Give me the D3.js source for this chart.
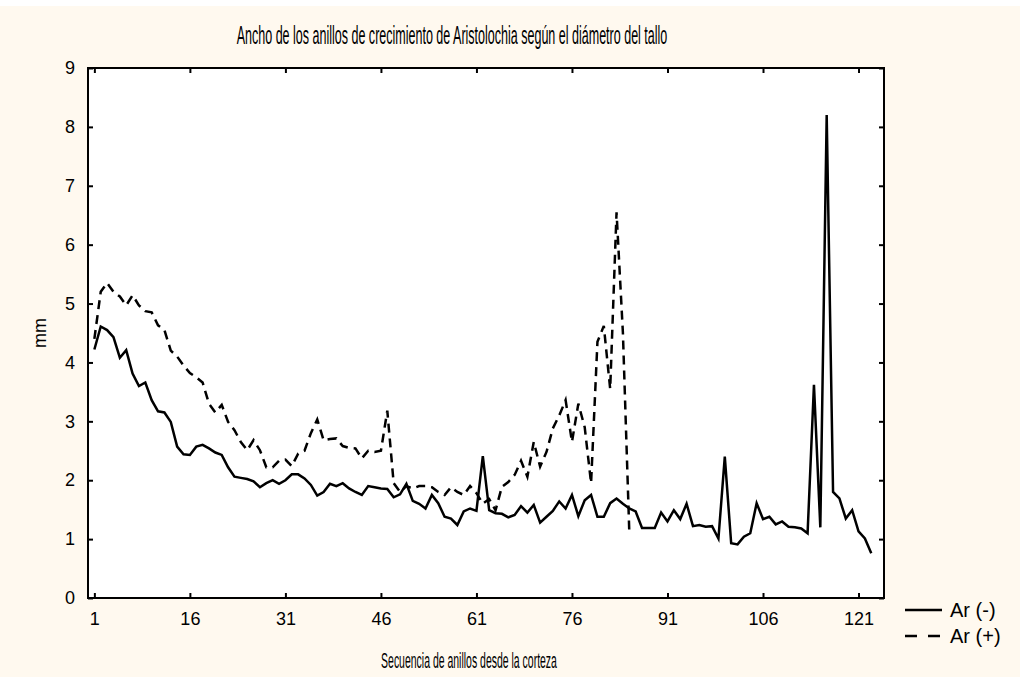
<!DOCTYPE html>
<html>
<head>
<meta charset="utf-8">
<script src="https://cdn.jsdelivr.net/npm/d3@7"></script>
<style>
	body { margin: 0; background: #fff; }
	svg { display: block; font-family: 'Liberation Sans', Arial, sans-serif; }
</style>
</head>
<body>
<div id="app"></div>
<script>
// ring widths (mm) by ring number
const arMinus = [
	4.22, 4.61, 4.55, 4.43, 4.08, 4.21, 3.81, 3.60, 3.66, 3.36,
	3.17, 3.15, 2.99, 2.57, 2.44, 2.43, 2.57, 2.60, 2.54, 2.47,
	2.43, 2.22, 2.06, 2.04, 2.02, 1.98, 1.88, 1.95, 2.00, 1.94,
	2.00, 2.10, 2.10, 2.03, 1.92, 1.74, 1.80, 1.94, 1.90, 1.95,
	1.86, 1.80, 1.75, 1.90, 1.88, 1.86, 1.85, 1.71, 1.76, 1.94,
	1.65, 1.60, 1.52, 1.75, 1.61, 1.38, 1.35, 1.24, 1.47, 1.52,
	1.48, 2.41, 1.49, 1.44, 1.43, 1.37, 1.41, 1.56, 1.45, 1.58,
	1.28, 1.38, 1.48, 1.64, 1.52, 1.75, 1.39, 1.66, 1.75, 1.38,
	1.38, 1.61, 1.69, 1.60, 1.52, 1.47, 1.19, 1.19, 1.19, 1.45,
	1.30, 1.49, 1.34, 1.60, 1.22, 1.24, 1.21, 1.22, 1.01, 2.40,
	0.93, 0.91, 1.04, 1.10, 1.61, 1.34, 1.38, 1.25, 1.30, 1.21,
	1.20, 1.18, 1.10, 3.62, 1.20, 8.20, 1.80, 1.69, 1.35, 1.49,
	1.13, 1.01, 0.76
]
const arPlus = [
	4.40, 5.20, 5.35, 5.20, 5.12, 4.97, 5.14, 4.97, 4.87, 4.85,
	4.63, 4.55, 4.20, 4.10, 3.95, 3.82, 3.75, 3.66, 3.30, 3.15,
	3.28, 2.99, 2.85, 2.65, 2.51, 2.68, 2.51, 2.22, 2.22, 2.33,
	2.35, 2.24, 2.45, 2.50, 2.80, 3.03, 2.68, 2.70, 2.71, 2.58,
	2.55, 2.54, 2.37, 2.50, 2.48, 2.50, 3.18, 1.95, 1.80, 1.90,
	1.86, 1.90, 1.90, 1.88, 1.80, 1.75, 1.88, 1.80, 1.75, 1.90,
	1.78, 1.60, 1.68, 1.49, 1.89, 1.97, 2.09, 2.33, 2.06, 2.65,
	2.23, 2.48, 2.88, 3.10, 3.36, 2.65, 3.30, 2.90, 1.95, 4.35,
	4.62, 3.55, 6.55, 4.50, 1.13
]
const xTicks = [1, 16, 31, 46, 61, 76, 91, 106, 121]
const yTicks = [0, 1, 2, 3, 4, 5, 6, 7, 8, 9]
const seriesNames = ['Ar (-)', 'Ar (+)']

const width = 1020
const height = 677
const plot = { left: 88, right: 884, top: 68, bottom: 598 }

const svg = d3.select('#app')
	.append('svg')
	.attr('width', width)
	.attr('height', height)

// cream page, white plot area
svg.append('rect')
	.attr('x', 0).attr('y', 6)
	.attr('width', width).attr('height', height - 6)
	.attr('fill', '#fff9ef')
svg.append('rect')
	.attr('x', plot.left).attr('y', plot.top)
	.attr('width', plot.right - plot.left).attr('height', plot.bottom - plot.top)
	.attr('fill', '#fff')

let x = d3.scaleLinear().domain([0, 125]).range([plot.left, plot.right])
let y = d3.scaleLinear().domain([0, 9]).range([plot.bottom, plot.top])

// ticks point inward on every side
const styleAxis = (g) => {
	g.select('.domain').remove()
	g.selectAll('.tick line').attr('stroke', '#000').attr('stroke-width', 2)
	g.selectAll('.tick text').attr('fill', '#000').style('font-size', '18px')
}

svg.append('g')
	.attr('transform', `translate(0, ${plot.bottom})`)
	.call(d3.axisBottom(x).tickValues(xTicks).tickSize(-5).tickPadding(14))
	.call(styleAxis)

svg.append('g')
	.attr('transform', `translate(0, ${plot.top})`)
	.call(d3.axisTop(x).tickValues(xTicks).tickSize(-5).tickFormat(''))
	.call(styleAxis)

svg.append('g')
	.attr('transform', `translate(${plot.left}, 0)`)
	.call(d3.axisLeft(y).tickValues(yTicks).tickSize(-5).tickPadding(13))
	.call(styleAxis)

svg.append('g')
	.attr('transform', `translate(${plot.right}, 0)`)
	.call(d3.axisRight(y).tickValues(yTicks).tickSize(-5).tickFormat(''))
	.call(styleAxis)

// plot frame
svg.append('rect')
	.attr('x', plot.left).attr('y', plot.top)
	.attr('width', plot.right - plot.left).attr('height', plot.bottom - plot.top)
	.attr('fill', 'none')
	.attr('stroke', '#000')
	.attr('stroke-width', 2)

let line = d3.line()
	.x((d, i) => x(i + 1))
	.y((d) => y(d))

svg.append('path')
	.datum(arPlus)
	.attr('d', line)
	.attr('fill', 'none')
	.attr('stroke', '#000')
	.attr('stroke-width', 2.5)
	.attr('stroke-dasharray', '9,6')

svg.append('path')
	.datum(arMinus)
	.attr('d', line)
	.attr('fill', 'none')
	.attr('stroke', '#000')
	.attr('stroke-width', 2.5)

// squeeze a text horizontally into a given width, centred on cx
function squeezedText(label, cx, baseline, boxWidth, fontSize) {
	let t = svg.append('text')
		.attr('text-anchor', 'middle')
		.attr('fill', '#000')
		.style('font-size', fontSize + 'px')
		.text(label)
	let natural = t.node().getComputedTextLength()
	t.attr('transform', `translate(${cx}, ${baseline}) scale(${boxWidth / natural}, 1)`)
}

squeezedText('Ancho de los anillos de crecimiento de Aristolochia según el diámetro del tallo', 452, 44, 431, 26)
squeezedText('Secuencia de anillos desde la corteza', 469, 668, 176, 22)

svg.append('text')
	.attr('transform', 'rotate(-90)')
	.attr('x', -(plot.top + plot.bottom) / 2)
	.attr('y', 46)
	.attr('text-anchor', 'middle')
	.style('font-size', '18px')
	.text('mm')

// legend
let legend = svg.append('g').attr('transform', 'translate(905, 610)')
seriesNames.forEach((name, i) => {
	legend.append('line')
		.attr('x1', 0).attr('x2', 37)
		.attr('y1', i * 26).attr('y2', i * 26)
		.attr('stroke', '#000')
		.attr('stroke-width', 2.5)
		.attr('stroke-dasharray', i === 0 ? null : '12,11')
	legend.append('text')
		.attr('x', 45)
		.attr('y', i * 26 + 7)
		.style('font-size', '20px')
		.text(name)
})
</script>
</body>
</html>
